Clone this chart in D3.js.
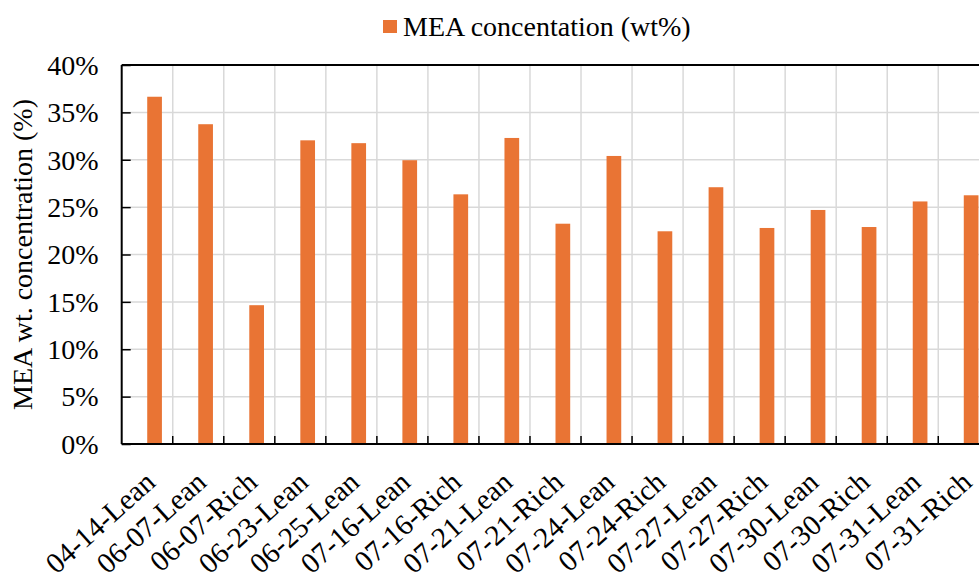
<!DOCTYPE html>
<html>
<head>
<meta charset="utf-8">
<script src="https://cdn.jsdelivr.net/npm/d3@7"></script>
<style>
  body { margin: 0; background: #fff; }
  svg { display: block; font-family: "Liberation Serif", "Times New Roman", serif; }
</style>
</head>
<body>
<div id="chart"></div>
<script>
// sample names and MEA weight concentration (%)
const samples = ['04-14-Lean', '06-07-Lean', '06-07-Rich', '06-23-Lean', '06-25-Lean',
  '07-16-Lean', '07-16-Rich', '07-21-Lean', '07-21-Rich', '07-24-Lean', '07-24-Rich',
  '07-27-Lean', '07-27-Rich', '07-30-Lean', '07-30-Rich', '07-31-Lean', '07-31-Rich'];
const meaConc = [36.65, 33.75, 14.65, 32.05, 31.75, 29.95, 26.35, 32.3, 23.25,
  30.4, 22.45, 27.1, 22.8, 24.7, 22.9, 25.6, 26.25];
const yTicks = [0, 5, 10, 15, 20, 25, 30, 35, 40];
const seriesName = 'MEA concentation (wt%)';
const yTitle = 'MEA wt. concentration (%)';

const W = 979, H = 573;
const plot = {left: 121.7, top: 65, bottom: 444, right: 989.3};
const orange = '#E97434';
const grid = '#d9d9d9';

const svg = d3.select('#chart').append('svg')
    .attr('width', W)
    .attr('height', H);

const x = d3.scaleBand()
    .domain(samples)
    .range([plot.left, plot.right])
    .padding(0);

const y = d3.scaleLinear()
    .domain([0, 40])
    .range([plot.bottom, plot.top]);

// horizontal gridlines
svg.append('g')
    .selectAll('line')
    .data(yTicks.slice(1, -1))
    .join('line')
    .attr('x1', plot.left).attr('x2', plot.right)
    .attr('y1', d => y(d)).attr('y2', d => y(d))
    .attr('stroke', grid).attr('stroke-width', 1.5);

// vertical gridlines at category boundaries
const bounds = samples.slice(1).map(s => x(s));
svg.append('g')
    .selectAll('line')
    .data(bounds)
    .join('line')
    .attr('x1', d => d).attr('x2', d => d)
    .attr('y1', plot.top).attr('y2', plot.bottom)
    .attr('stroke', grid).attr('stroke-width', 1.5);

// bars (sit right of the category centre, like a 2-series cluster with one series)
const barW = x.bandwidth() * 0.288;
svg.append('g')
    .selectAll('rect')
    .data(meaConc)
    .join('rect')
    .attr('x', (d, i) => x(samples[i]) + x.bandwidth() / 2)
    .attr('y', d => y(d))
    .attr('width', barW)
    .attr('height', d => y(0) - y(d))
    .attr('fill', orange);

// y axis with inward ticks
const yAxis = svg.append('g')
    .attr('transform', `translate(${plot.left},0)`)
    .call(d3.axisLeft(y).tickValues(yTicks).tickSize(-9).tickPadding(32).tickFormat(d => d + '%'));
yAxis.select('.domain').remove();
yAxis.selectAll('.tick line').attr('stroke', '#000').attr('stroke-width', 1.5);
yAxis.selectAll('.tick text')
    .attr('font-size', 28)
    .attr('font-family', '"Liberation Serif", serif')
    .attr('fill', '#000')
    .attr('x', -23)
    .attr('dy', '0.33em');

// x tick marks at band boundaries (inward)
svg.append('g')
    .selectAll('line')
    .data(bounds)
    .join('line')
    .attr('x1', d => d).attr('x2', d => d)
    .attr('y1', plot.bottom - 8).attr('y2', plot.bottom)
    .attr('stroke', '#000').attr('stroke-width', 1.5);

// x labels, slanted
svg.append('g')
    .selectAll('text')
    .data(samples)
    .join('text')
    .attr('transform', d => `translate(${x(d) + x.bandwidth() / 2 + 9.7},${plot.bottom + 40.5}) rotate(-42)`)
    .attr('text-anchor', 'end')
    .attr('font-size', 29)
    .attr('fill', '#000')
    .text(d => d);

// plot frame
const frame = svg.append('g').attr('stroke', '#000').attr('stroke-width', 2).attr('fill', 'none');
frame.append('line').attr('x1', plot.left).attr('x2', plot.right).attr('y1', plot.top).attr('y2', plot.top);
frame.append('line').attr('x1', plot.left).attr('x2', plot.right).attr('y1', plot.bottom).attr('y2', plot.bottom);
frame.append('line').attr('x1', plot.left).attr('x2', plot.left).attr('y1', plot.top).attr('y2', plot.bottom);

// y title
svg.append('text')
    .attr('transform', `translate(32,${(plot.top + plot.bottom) / 2}) rotate(-90)`)
    .attr('text-anchor', 'middle')
    .attr('font-size', 28)
    .attr('fill', '#000')
    .text(yTitle);

// legend
const legend = svg.append('g');
legend.append('rect')
    .attr('x', 383).attr('y', 20)
    .attr('width', 14).attr('height', 13)
    .attr('fill', orange);
legend.append('text')
    .attr('x', 403).attr('y', 35.5)
    .attr('font-size', 28)
    .attr('fill', '#000')
    .text(seriesName);
</script>
</body>
</html>
